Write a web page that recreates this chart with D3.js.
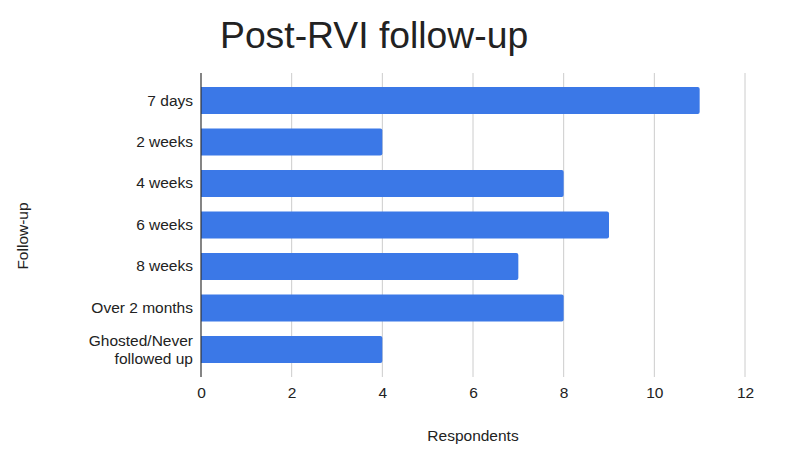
<!DOCTYPE html>
<html>
<head>
<meta charset="utf-8">
<script src="https://cdn.jsdelivr.net/npm/d3@7"></script>
<style>
  body { margin: 0; background: #fff; }
  text { font-family: Arial, "Liberation Sans", sans-serif; fill: #222; }
</style>
</head>
<body>
<svg id="chart"></svg>
<script>
const categories = ['7 days', '2 weeks', '4 weeks', '6 weeks', '8 weeks', 'Over 2 months', 'Ghosted/Never followed up'];
const respondents = [11, 4, 8, 9, 7, 8, 4];
const xTicks = [0, 2, 4, 6, 8, 10, 12];

const width = 802, height = 461;
const plot = { left: 201, right: 745, top: 73, bottom: 377 };
const fs = '15.5px';

const svg = d3.select('#chart')
    .attr('width', width)
    .attr('height', height);

const data = categories.map((c, i) => ({ category: c, value: respondents[i] }));

const x = d3.scaleLinear()
    .domain([0, 12])
    .range([plot.left, plot.right]);

const y = d3.scaleBand()
    .domain(categories)
    .range([plot.top, plot.bottom])
    .paddingInner(0.35)
    .paddingOuter(0.34);

// gridlines
svg.append('g')
    .selectAll('line')
    .data(xTicks.filter(d => d > 0))
    .enter()
    .append('line')
    .attr('x1', d => x(d))
    .attr('x2', d => x(d))
    .attr('y1', plot.top)
    .attr('y2', plot.bottom)
    .attr('stroke', '#cccccc')
    .attr('stroke-width', 1);

// bars with rounded right end
const r = 2;
svg.append('g')
    .selectAll('path')
    .data(data)
    .enter()
    .append('path')
    .attr('fill', '#3b78e7')
    .attr('d', d => {
        const x0 = x(0), x1 = x(d.value), y0 = y(d.category), h = y.bandwidth();
        return `M${x0},${y0}H${x1 - r}Q${x1},${y0} ${x1},${y0 + r}V${y0 + h - r}Q${x1},${y0 + h} ${x1 - r},${y0 + h}H${x0}Z`;
    });

// x axis tick labels
const xAxis = d3.axisBottom(x).tickValues(xTicks).tickSize(0).tickPadding(10);
const gx = svg.append('g')
    .attr('transform', `translate(0,${plot.bottom})`)
    .call(xAxis);
gx.select('.domain').remove();
gx.selectAll('text').style('font-size', fs).attr('fill', '#222');

// y axis
const yAxis = d3.axisLeft(y).tickSize(0).tickPadding(8);
const gy = svg.append('g')
    .attr('transform', `translate(${plot.left},0)`)
    .call(yAxis);
gy.select('.domain').remove();
gy.selectAll('text').style('font-size', fs).attr('fill', '#222')
    .each(function(d) {
        const t = d3.select(this);
        if (d.indexOf('/') >= 0) {
            const parts = ['Ghosted/Never', 'followed up'];
            const xx = t.attr('x');
            t.text(null).attr('dy', null);
            parts.forEach((p, i) => {
                t.append('tspan')
                    .attr('x', xx)
                    .attr('dy', i === 0 ? '-0.2em' : '1.13em')
                    .text(p);
            });
        }
    });

svg.append('line')
    .attr('x1', plot.left).attr('x2', plot.left)
    .attr('y1', plot.top).attr('y2', plot.bottom)
    .attr('stroke', '#333')
    .attr('stroke-width', 1.2);

// title
svg.append('text')
    .attr('x', 220)
    .attr('y', 48)
    .style('font-size', '37.3px')
    .text('Post-RVI follow-up');

// axis titles
svg.append('text')
    .attr('x', 473)
    .attr('y', 441)
    .attr('text-anchor', 'middle')
    .style('font-size', fs)
    .text('Respondents');

svg.append('text')
    .attr('transform', 'translate(28,236) rotate(-90)')
    .attr('text-anchor', 'middle')
    .style('font-size', fs)
    .text('Follow-up');
</script>
</body>
</html>
